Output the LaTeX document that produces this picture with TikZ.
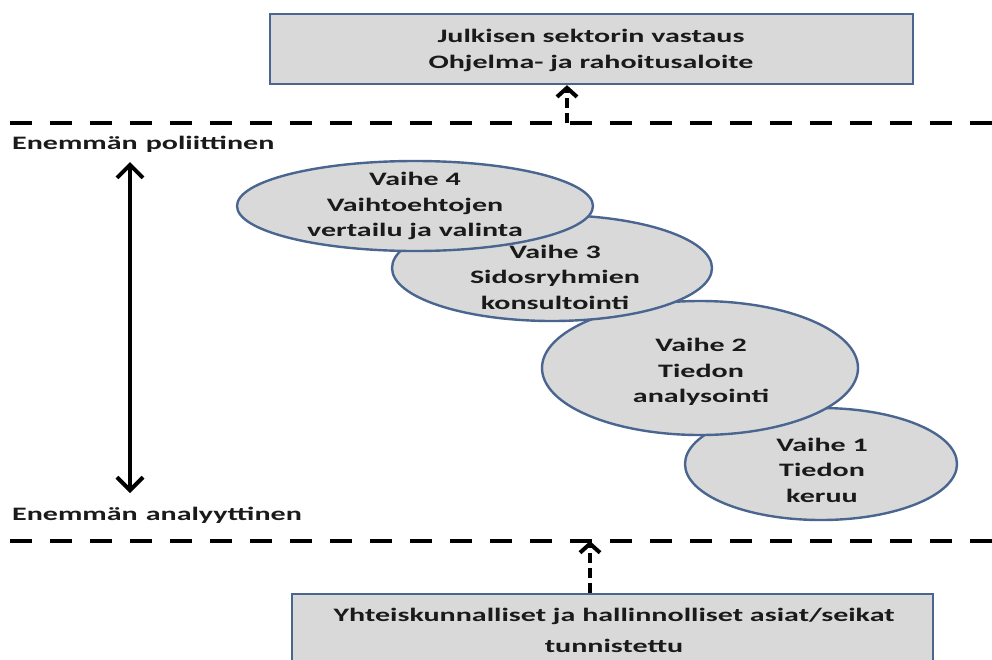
\documentclass[tikz,border=0pt]{standalone}
\usepackage{fontspec}
\setmainfont{Carlito}[FakeStretch=1.58]
\usetikzlibrary{arrows.meta,shapes.geometric}
\definecolor{outline}{HTML}{4A6690}
\definecolor{shade}{HTML}{D9D9D9}
\definecolor{ink}{HTML}{1A1A1A}
\begin{document}
\begin{tikzpicture}[x=1pt,y=-1pt,
  font=\fontsize{19}{25.5}\selectfont\bfseries, text=ink,
  phase/.style={ellipse, draw=outline, line width=2.4pt, fill=shade, inner sep=0pt},
  phasetext/.style={align=center, inner sep=0pt},
  panel/.style={rectangle, draw=outline, line width=2.4pt, fill=shade, inner sep=0pt},
  divider/.style={line width=4.5pt, dash pattern=on 22pt off 18pt},
  flow/.style={line width=4pt, dash pattern=on 10pt off 5pt,
    -{Straight Barb[length=9pt,width=20pt]}},
  rangearrow/.style={line width=4pt,
    {Straight Barb[length=13pt,width=26pt]}-{Straight Barb[length=13pt,width=26pt]}},
  side/.style={anchor=base west, inner sep=0pt}]
\useasboundingbox (0,0) rectangle (992,659);

% level dividers
\coordinate (tl) at (10,123);
\coordinate (tr) at (995,123);
\coordinate (bl) at (10,541);
\coordinate (br) at (995,541);
\draw[divider] (tl) -- (tr);
\draw[divider] (bl) -- (br);

% outcome and trigger panels
\node[panel, minimum width=643pt, minimum height=70pt] (out) at (591.5,49) {};
\node[phasetext, font=\fontsize{19}{26}\selectfont\bfseries] (outtext) at (591,50)
  {Julkisen sektorin vastaus\\Ohjelma- ja rahoitusaloite};
\node[panel, minimum width=641pt, minimum height=72pt] (in) at (612.5,630) {};
\node[phasetext, font=\fontsize{19}{31}\selectfont\bfseries] (intext) at (614,630)
  {Yhteiskunnalliset ja hallinnolliset asiat/seikat\\tunnistettu};

% flow through the dividers
\coordinate (up1) at (567,123);
\coordinate (up2) at (590,541);
\draw[flow] (up1) -- (up1 |- out.south);
\draw[flow] (up2 |- in.north) -- (up2);

% political / analytical range
\coordinate (hi) at (130,162);
\coordinate (lo) at (130,493);
\draw[rangearrow] (lo) -- (hi);
\node[side] (pol) at (12,149) {Enemmän\hspace{8pt}poliittinen};
\node[side] (ana) at (12,520) {Enemmän\hspace{8pt}analyyttinen};

% the four phases
\node[phase, minimum width=272pt, minimum height=112pt] (e1) at (821,464) {};
\node[phase, minimum width=316pt, minimum height=134pt] (e2) at (700,368) {};
\node[phase, minimum width=320pt, minimum height=106pt] (e3) at (552,268) {};
\node[phase, minimum width=356pt, minimum height=90pt] (e4) at (415,206) {};

\node[phasetext] (t1) at (822,470) {Vaihe 1\\Tiedon\\keruu};
\node[phasetext] (t2) at (701,372) {Vaihe 2\\Tiedon\\analysointi};
\node[phasetext] (t3) at (555,277) {Vaihe 3\\Sidosryhmien\\konsultointi};
\node[phasetext] (t4) at (415,206) {Vaihe 4\\Vaihtoehtojen\\vertailu ja valinta};
\end{tikzpicture}
\end{document}
